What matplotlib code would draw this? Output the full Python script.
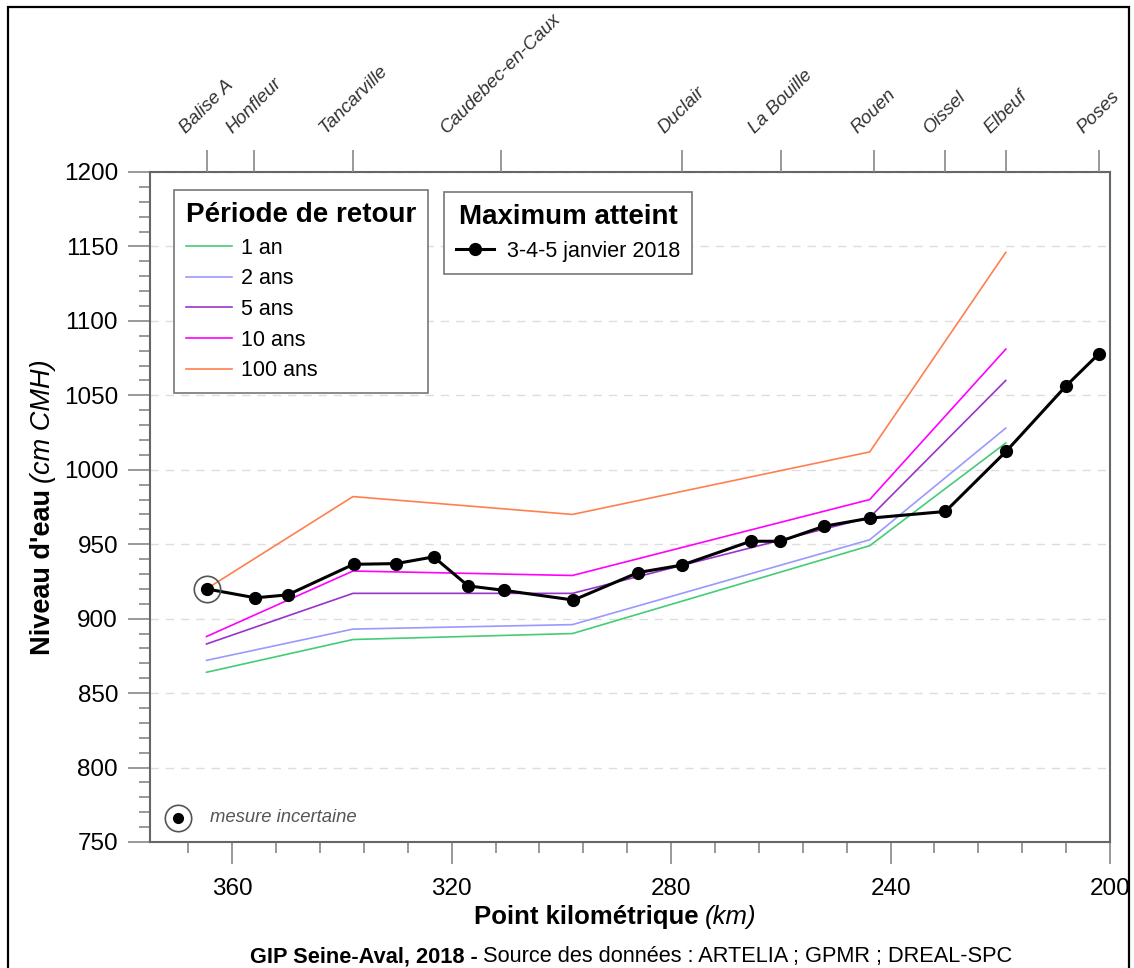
import matplotlib
matplotlib.use("Agg")
import matplotlib.pyplot as plt
from matplotlib.ticker import MultipleLocator, FixedLocator
from matplotlib.transforms import IdentityTransform
from matplotlib.patches import Rectangle

plt.rcParams["font.family"] = ["Liberation Sans", "DejaVu Sans"]

# ---- data
cities = ["Balise A", "Honfleur", "Tancarville", "Caudebec-en-Caux", "Duclair",
          "La Bouille", "Rouen", "Oissel", "Elbeuf", "Poses"]
pk_cities = [364.7, 356.0, 338.0, 311.0, 278.1, 260.0, 243.0, 230.0, 219.0, 202.0]

pk_periods = [364.7, 338.0, 298.0, 243.8, 219.0]
lvl_1an = [864, 886, 890, 949, 1018]
lvl_2ans = [872, 893, 896, 953, 1028]
lvl_5ans = [883, 917, 917, 968, 1060]
lvl_10ans = [888, 932, 929, 980, 1081]
lvl_100ans = [920, 982, 970, 1012, 1146]
period_labels = ["1 an", "2 ans", "5 ans", "10 ans", "100 ans"]
period_colors = ["#44cc77", "#9999ff", "#9933cc", "#ff00ff", "#ff7f50"]

pk_max = [364.7, 355.8, 349.9, 337.9, 330.1, 323.3, 317.0, 310.4, 297.8, 286.0,
          278.0, 265.5, 260.1, 252.2, 243.8, 230.0, 218.9, 208.1, 202.0]
lvl_max = [920, 914, 916, 936.5, 937, 941.5, 922, 919, 912.5, 931,
           936, 952, 952, 962, 967.5, 972, 1012.5, 1056, 1078]
uncertain_idx = 0

W, H = 1134, 968
fig = plt.figure(figsize=(W / 100, H / 100), dpi=100)
ax = fig.add_axes([150 / W, 1 - 842 / H, 960 / W, 670 / H])

# ---- return period lines
handles1 = []
for lv, lab, col in zip([lvl_1an, lvl_2ans, lvl_5ans, lvl_10ans, lvl_100ans],
                        period_labels, period_colors):
    h, = ax.plot(pk_periods, lv, color=col, lw=1.2, label=lab, zorder=2)
    handles1.append(h)

# ---- observed maximum
h2, = ax.plot(pk_max, lvl_max, color="black", lw=2.2, marker="o", ms=8.5,
              label="3-4-5 janvier 2018", zorder=4)
ax.plot(pk_max[uncertain_idx], lvl_max[uncertain_idx], "o", ms=19, mfc="none",
        mec="#555555", mew=1.2, zorder=5)

ax.set_xlim(375, 200)
ax.set_ylim(750, 1200)

ax.xaxis.set_major_locator(MultipleLocator(40))
ax.xaxis.set_minor_locator(FixedLocator(list(range(200, 376, 8))))
ax.yaxis.set_major_locator(MultipleLocator(50))
ax.yaxis.set_minor_locator(MultipleLocator(10))
ax.tick_params(which="major", length=16, width=1.2, color="#888888",
               labelsize=17.5, pad=10)
ax.tick_params(which="minor", length=8, width=1.2, color="#888888")
ax.tick_params(axis="y", pad=7)
for sp in ax.spines.values():
    sp.set_color("#666666")
    sp.set_linewidth(1.5)

ax.yaxis.grid(True, which="major", linestyle=(0, (6, 5)), color="#dddddd", lw=1)
ax.set_axisbelow(True)

# ---- top axis with places
ax2 = ax.twiny()
ax2.set_xlim(ax.get_xlim())
ax2.set_xticks(pk_cities)
ax2.set_xticklabels(cities, rotation=45, ha="center", fontstyle="italic",
                    color="#333333")
ax2.tick_params(axis="x", length=16, width=1.2, color="#888888", labelsize=13.5,
                pad=9)
for sp in ax2.spines.values():
    sp.set_visible(False)

# ---- legends
leg1 = ax.legend(handles=handles1, title="Période de retour", loc="upper left",
                 bbox_to_anchor=(0.0255, 0.973), borderaxespad=0, fontsize=15.5,
                 title_fontproperties={"weight": "bold", "size": 20},
                 fancybox=False, edgecolor="#777777", framealpha=1,
                 handlelength=2.1, handletextpad=0.45, labelspacing=0.45,
                 alignment="left", borderpad=0.55)
leg1.get_frame().set_linewidth(1.2)
ax.add_artist(leg1)
leg2 = ax.legend(handles=[h2], title="Maximum atteint", loc="upper left",
                 bbox_to_anchor=(0.306, 0.970), borderaxespad=0, fontsize=15.5,
                 title_fontproperties={"weight": "bold", "size": 20},
                 fancybox=False, edgecolor="#777777", framealpha=1,
                 handlelength=1.8, handletextpad=0.6, borderpad=0.55)
leg2.get_frame().set_linewidth(1.2)

# ---- "mesure incertaine" key
ax.plot([0.029], [0.036], "o", color="black", ms=7, transform=ax.transAxes,
        clip_on=False, zorder=5)
ax.plot([0.029], [0.036], "o", ms=19, mfc="none", mec="#555555", mew=1.2,
        transform=ax.transAxes, clip_on=False, zorder=5)
ax.text(0.062, 0.036, "mesure incertaine", transform=ax.transAxes,
        fontstyle="italic", fontsize=13.3, color="#555555", va="center")


def rich(xpx, ypx, parts, rotation=0, gap=0):
    r = fig.canvas.get_renderer()
    arts = [fig.text(0, 0, s, rotation=rotation, rotation_mode="anchor",
                     ha="left", va="baseline", transform=IdentityTransform(), **kw)
            for s, kw in parts]
    sizes = []
    for t in arts:
        bb = t.get_window_extent(r)
        sizes.append(bb.width if rotation == 0 else bb.height)
    total = sum(sizes) + gap * (len(arts) - 1)
    off = -total / 2
    for t, s in zip(arts, sizes):
        if rotation == 0:
            t.set_position((xpx + off, ypx))
        else:
            t.set_position((xpx, ypx + off))
        off += s + gap


rich(615, H - 924, [("Point kilométrique", {"fontsize": 18.5, "weight": "bold"}),
                    ("(km)", {"fontsize": 18.5, "fontstyle": "italic"})], gap=6)
rich(50, H - 507, [("Niveau d'eau", {"fontsize": 19.5, "weight": "bold"}),
                   ("(cm CMH)", {"fontsize": 19.5, "fontstyle": "italic"})],
     rotation=90, gap=6)
rich(631, H - 962, [("GIP Seine-Aval, 2018 -", {"fontsize": 15.7, "weight": "bold"}),
                    ("Source des données : ARTELIA ; GPMR ; DREAL-SPC",
                     {"fontsize": 15.7})], gap=5)

# frame around the whole picture
fig.patches.append(Rectangle((8 / W, -0.05), 1121 / W, 1.05 - 7 / H,
                             transform=fig.transFigure, fill=False,
                             edgecolor="black", lw=1.6))

fig.savefig("out.png", dpi=100)
